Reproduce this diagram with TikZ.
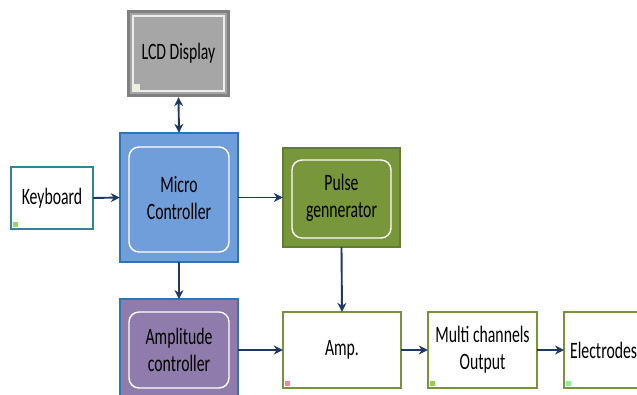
\documentclass[tikz,border=0pt]{standalone}
\usepackage{fontspec}
\newfontfamily\lbl[FakeStretch=0.67]{Carlito}
\usetikzlibrary{arrows.meta}
\definecolor{navy}{RGB}{31,56,100}
\definecolor{mcblue}{RGB}{112,158,218}
\definecolor{mcedge}{RGB}{46,117,182}
\definecolor{pgreen}{RGB}{120,150,58}
\definecolor{pedge}{RGB}{98,124,48}
\definecolor{apurple}{RGB}{143,124,172}
\definecolor{lgray}{RGB}{166,166,166}
\definecolor{dgray}{RGB}{128,128,128}
\definecolor{olive}{RGB}{119,147,60}
\definecolor{teal}{RGB}{49,132,155}
\definecolor{pinkmark}{RGB}{255,128,160}
\definecolor{greenmark}{RGB}{146,208,80}
\definecolor{mintmark}{RGB}{144,238,144}
\definecolor{creammark}{RGB}{235,241,222}
\tikzset{
  txt/.style={font=\lbl\fontsize{23.5}{27}\selectfont, align=center, text=black},
  plainbox/.style={draw=olive, line width=1.8pt, fill=white},
  outerbox/.style={line width=1.8pt},
  innerbox/.style={draw=white, line width=1.4pt, rounded corners=10pt},
  conn/.style={draw=navy, line width=1.9pt, -{Stealth[length=9pt,width=9pt]}},
  biconn/.style={draw=navy, line width=1.9pt, {Stealth[length=9pt,width=9pt]}-{Stealth[length=9pt,width=9pt]}},
}
\begin{document}
\begin{tikzpicture}[x=1pt,y=-1pt]
\useasboundingbox (0,0) rectangle (637,394);
\clip (0,0) rectangle (637,394);

% LCD display
\fill[dgray] (127,10) rectangle (230,97);
\fill[lgray] (130,13) rectangle (227,94);
\draw[white!80!lgray, line width=1.2pt] (133,16) rectangle (224,91);
\fill[creammark] (134,84) rectangle (140,90);
\node[txt, minimum width=103pt, minimum height=87pt] (lcd) at (178.5,53.5) {LCD Display};

% Micro controller
\filldraw[mcblue, draw=mcedge, outerbox] (120,133) rectangle (238,262);
\draw[innerbox] (129,147) rectangle (229,252);
\node[txt, minimum width=118pt, minimum height=129pt] (mc) at (179,197.5) {Micro\\Controller};

% Keyboard
\draw[draw=teal, line width=1.8pt, fill=white] (11,167) rectangle (93,229);
\fill[greenmark!70!mintmark] (13,222) rectangle (18,227);
\node[txt, minimum width=82pt, minimum height=62pt] (kb) at (52,198) {Keyboard};

% Pulse generator
\filldraw[pgreen, draw=pedge, outerbox] (283,148) rectangle (400,247);
\draw[innerbox] (292,160) rectangle (391,238);
\node[txt, minimum width=117pt, minimum height=99pt] (pg) at (341.5,197.5) {Pulse\\gennerator};

% Amplitude controller
\filldraw[apurple, draw=mcedge, outerbox] (120,299) rectangle (238,410);
\draw[innerbox] (129,312) rectangle (229,388);
\node[txt, minimum width=118pt] (ac) at (179,350) {Amplitude\\controller};
\coordinate (actop) at (179,299);

% Amp.
\draw[plainbox] (283,312) rectangle (401,388);
\fill[pinkmark] (285,381) rectangle (290,386);
\node[txt, minimum width=118pt, minimum height=76pt] (amp) at (342,350) {Amp.};

% Multi channels output
\draw[plainbox] (428,312) rectangle (537,388);
\fill[greenmark] (430,381) rectangle (435,386);
\node[txt, minimum width=109pt, minimum height=76pt] (mco) at (482.5,350) {Multi channels\\Output};

% Electrodes
\draw[plainbox] (564,312) rectangle (680,388);
\fill[mintmark] (566,381) rectangle (571,386);
\node[txt, anchor=west, inner sep=0pt] (el) at (570,350) {Electrodes};
\coordinate (elin) at (564,350);

% Connectors
\draw[biconn] (lcd.south) -- (mc.north);
\draw[conn] (kb.east) -- (mc.west);
\draw[conn] (mc.east) -- (pg.west);
\draw[conn] (mc.south) -- (actop);
\draw[conn] (pg.south) -- (amp.north);
\draw[conn] (238,350) -- (amp.west);
\draw[conn] (amp.east) -- (mco.west);
\draw[conn] (mco.east) -- (elin);
\end{tikzpicture}
\end{document}
